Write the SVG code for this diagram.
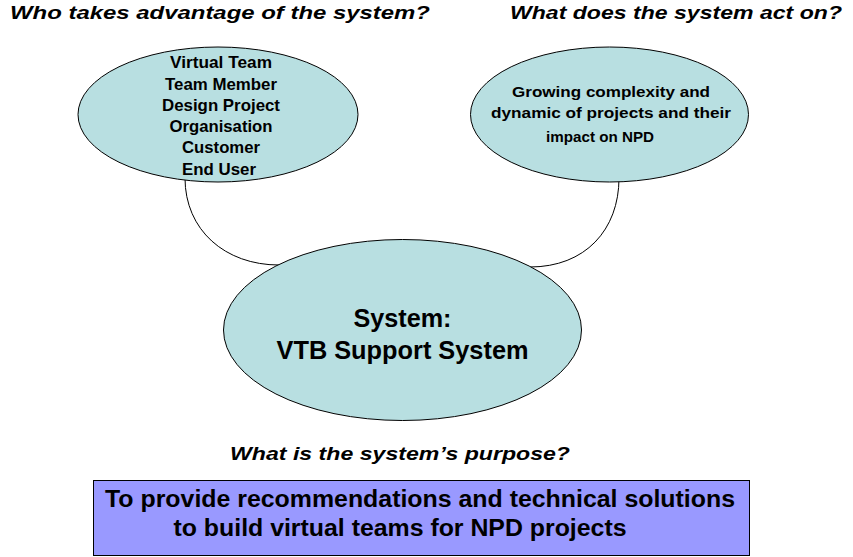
<svg xmlns="http://www.w3.org/2000/svg" width="853" height="557" viewBox="0 0 853 557">
<style>
.ell{fill:#b8dfe1;stroke:#000;stroke-width:1}
.t{font-family:"Liberation Sans",Arial,sans-serif;font-weight:bold;fill:#000;text-anchor:middle}
.q{font-family:"Liberation Sans",Arial,sans-serif;font-weight:bold;font-style:italic;font-size:18px;fill:#000}
.c{fill:none;stroke:#000;stroke-width:1}
</style>
<rect width="853" height="557" fill="#fff"/>
<text class="q" x="10" y="19" textLength="420" lengthAdjust="spacingAndGlyphs">Who takes advantage of the system?</text>
<text class="q" x="510" y="19" textLength="332" lengthAdjust="spacingAndGlyphs">What does the system act on?</text>
<text class="q" x="230" y="460" textLength="340" lengthAdjust="spacingAndGlyphs">What is the system’s purpose?</text>
<g id="connectors">
<path class="c" d="M185,178 C185,230 225,265 279,265"/>
<path class="c" d="M619,178 C619,230 585,267 530,267"/>
</g>
<g id="who">
<ellipse class="ell" cx="218" cy="114.5" rx="140" ry="67.5"/>
<text class="t" font-size="16.5" x="221" y="68" textLength="102" lengthAdjust="spacingAndGlyphs">Virtual Team</text>
<text class="t" font-size="16.5" x="221" y="90" textLength="112" lengthAdjust="spacingAndGlyphs">Team Member</text>
<text class="t" font-size="16.5" x="221" y="111" textLength="118" lengthAdjust="spacingAndGlyphs">Design Project</text>
<text class="t" font-size="16.5" x="221" y="132" textLength="103" lengthAdjust="spacingAndGlyphs">Organisation</text>
<text class="t" font-size="16.5" x="221" y="153" textLength="78" lengthAdjust="spacingAndGlyphs">Customer</text>
<text class="t" font-size="16.5" x="219" y="175" textLength="74" lengthAdjust="spacingAndGlyphs">End User</text>
</g>
<g id="acton">
<ellipse class="ell" cx="609.5" cy="114.5" rx="139" ry="67.5"/>
<text class="t" font-size="14.5" x="611" y="97" textLength="198" lengthAdjust="spacingAndGlyphs">Growing complexity and</text>
<text class="t" font-size="14.5" x="611" y="117.5" textLength="240" lengthAdjust="spacingAndGlyphs">dynamic of projects and their</text>
<text class="t" font-size="14.5" x="600" y="141.5" textLength="108" lengthAdjust="spacingAndGlyphs">impact on NPD</text>
</g>
<g id="system">
<ellipse class="ell" cx="402.5" cy="330" rx="179" ry="90.5"/>
<text class="t" font-size="26" x="402.5" y="326.5" textLength="98" lengthAdjust="spacingAndGlyphs">System:</text>
<text class="t" font-size="26" x="402.5" y="358.5" textLength="252" lengthAdjust="spacingAndGlyphs">VTB Support System</text>
</g>
<g id="purpose">
<rect x="93.5" y="480.5" width="656" height="75" fill="#9999ff" stroke="#000" stroke-width="1"/>
<text class="t" font-size="23" x="420" y="507" textLength="630" lengthAdjust="spacingAndGlyphs">To provide recommendations and technical solutions</text>
<text class="t" font-size="23" x="400" y="535.5" textLength="453" lengthAdjust="spacingAndGlyphs">to build virtual teams for NPD projects</text>
</g>
</svg>
